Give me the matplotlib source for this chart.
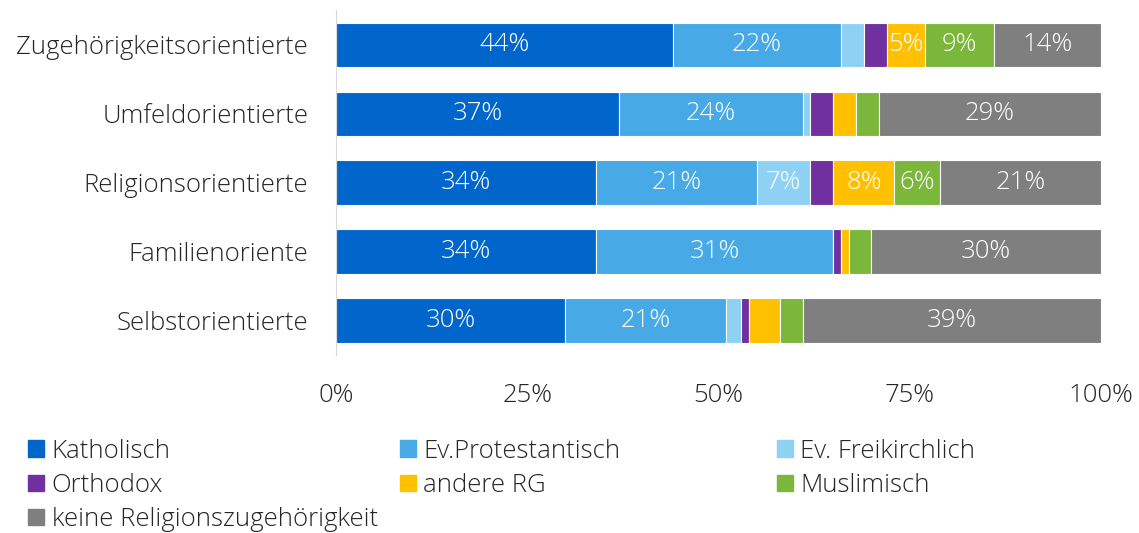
import matplotlib.pyplot as plt
import numpy as np
from matplotlib.patches import Patch

plt.rcParams['font.family'] = ['Open Sans', 'DejaVu Sans']

categories = ['Zugehörigkeitsorientierte', 'Umfeldorientierte', 'Religionsorientierte',
              'Familienoriente', 'Selbstorientierte']
series_names = ['Katholisch', 'Ev.Protestantisch', 'Ev. Freikirchlich', 'Orthodox',
                'andere RG', 'Muslimisch', 'keine Religionszugehörigkeit']
katholisch = [44, 37, 34, 34, 30]
ev_protestantisch = [22, 24, 21, 31, 21]
ev_freikirchlich = [3, 1, 7, 0, 2]
orthodox = [3, 3, 3, 1, 1]
andere_rg = [5, 3, 8, 1, 4]
muslimisch = [9, 3, 6, 3, 3]
keine = [14, 29, 21, 30, 39]
x_ticks = [0, 25, 50, 75, 100]

colors = ['#0066CC', '#47A9E6', '#8FD1F2', '#7030A0', '#FFC000', '#7AB73A', '#7F7F7F']
series = [katholisch, ev_protestantisch, ev_freikirchlich, orthodox, andere_rg, muslimisch, keine]
fs = 18.5

fig = plt.figure(figsize=(11.39, 5.33), dpi=100)
ax = fig.add_axes([0.295, 0.334, 0.6716, 0.647])

y = np.arange(len(categories))
left = np.zeros(len(categories))
handles = []
for name, vals, col in zip(series_names, series, colors):
    vals = np.array(vals, dtype=float)
    bars = ax.barh(y, vals, left=left, height=0.64, color=col,
                   edgecolor='white', linewidth=0.8, label=name)
    # only segments of 5% or more get a label
    labels = [f'{v:.0f}%' if v >= 5 else '' for v in vals]
    ax.bar_label(bars, labels=labels, label_type='center', color='white',
                 fontsize=fs, fontweight='light')
    left += vals
    handles.append(Patch(color=col, label=name))

ax.set_xlim(0, 100)
ax.set_ylim(len(categories) - 0.5, -0.5)
ax.set_yticks(y)
ax.set_yticklabels(categories, fontsize=fs, color='#262626', fontweight='light')
ax.set_xticks(x_ticks)
ax.set_xticklabels([f'{t}%' for t in x_ticks], fontsize=fs, color='#262626', fontweight='light')
ax.tick_params(axis='both', length=0)
ax.tick_params(axis='x', pad=20)
ax.tick_params(axis='y', pad=20)
for s in ['top', 'right', 'bottom']:
    ax.spines[s].set_visible(False)
ax.spines['left'].set_color('#D9D9D9')

# legend: three columns placed like the original
columns = [[0, 3, 6], [1, 4], [2, 5]]
col_x = [0.0246, 0.351, 0.682]
for idx, cx in zip(columns, col_x):
    leg = fig.legend([handles[i] for i in idx], [series_names[i] for i in idx],
                     loc='upper left', bbox_to_anchor=(cx, 0.177), frameon=False,
                     prop={'size': fs, 'weight': 'light'}, handlelength=0.62,
                     handleheight=0.62, handletextpad=0.3, labelspacing=0.36,
                     borderaxespad=0, borderpad=0)
    for t in leg.get_texts():
        t.set_color('#262626')

fig.savefig('out.png', dpi=100)
